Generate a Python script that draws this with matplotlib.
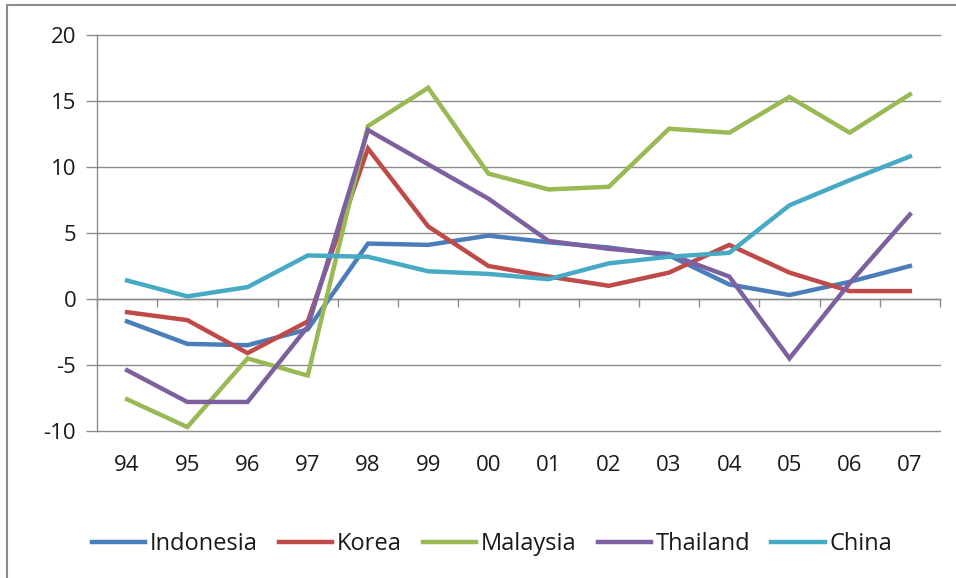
import matplotlib
matplotlib.use("Agg")
import matplotlib.pyplot as plt
from matplotlib.patches import Rectangle
import numpy as np

years = ["94", "95", "96", "97", "98", "99", "00", "01", "02", "03", "04", "05", "06", "07"]
indonesia = [-1.7, -3.4, -3.5, -2.3, 4.2, 4.1, 4.8, 4.3, 3.9, 3.3, 1.1, 0.3, 1.3, 2.5]
korea = [-1.0, -1.6, -4.1, -1.7, 11.4, 5.5, 2.5, 1.7, 1.0, 2.0, 4.1, 2.0, 0.6, 0.6]
malaysia = [-7.6, -9.7, -4.5, -5.8, 13.1, 16.0, 9.5, 8.3, 8.5, 12.9, 12.6, 15.3, 12.6, 15.5]
thailand = [-5.4, -7.8, -7.8, -2.1, 12.8, 10.2, 7.6, 4.4, 3.8, 3.4, 1.7, -4.5, 1.2, 6.4]
china = [1.4, 0.2, 0.9, 3.3, 3.2, 2.1, 1.9, 1.5, 2.7, 3.2, 3.5, 7.1, 9.0, 10.8]

series = [("Indonesia", indonesia, "#4A7EBB"),
          ("Korea", korea, "#BE4B48"),
          ("Malaysia", malaysia, "#98B954"),
          ("Thailand", thailand, "#7D60A0"),
          ("China", china, "#46AAC5")]
yticks = [-10, -5, 0, 5, 10, 15, 20]

plt.rcParams['font.family'] = ['Open Sans', 'DejaVu Sans']
W, H = 956, 578
fig = plt.figure(figsize=(W / 100, H / 100), dpi=100)
ax = fig.add_axes([97 / W, 1 - 431 / H, 843 / W, 396 / H])

x = np.arange(len(years))
for v in yticks:
    ax.axhline(v, color="#8C8C8C", lw=1.0, zorder=0, clip_on=False)
for name, vals, col in series:
    ax.plot(x, vals, color=col, lw=3.2, label=name, solid_joinstyle='miter')

ax.set_xlim(-0.5, len(years) - 0.5)
ax.set_ylim(-10, 20)
ax.set_yticks(yticks)
ax.set_yticklabels([str(v) for v in yticks], fontsize=16, color="#1a1a1a")
ax.tick_params(axis='y', length=8, color="#8C8C8C", width=1, pad=7)

ax.set_xticks(x)
ax.set_xticklabels(years, fontsize=16, color="#1a1a1a")
ax.tick_params(axis='x', length=0, pad=17)

for s in ["top", "right", "bottom"]:
    ax.spines[s].set_visible(False)
ax.spines["left"].set_color("#8C8C8C")
ax.spines["left"].set_linewidth(1.0)

# category axis at zero with tick marks between categories
sec = ax.secondary_xaxis(10 / 30)
sec.set_xticks(np.arange(len(years) + 1) - 0.5)
sec.set_xticklabels([])
sec.tick_params(axis='x', direction='out', length=6, color="#8C8C8C", width=1)
sec.spines["bottom"].set_color("#8C8C8C")
sec.spines["bottom"].set_linewidth(1.0)

leg = fig.legend(loc="center", bbox_to_anchor=(492 / W, 1 - 544 / H), ncol=5,
                 frameon=False, fontsize=17, handlelength=2.25, handletextpad=0.2,
                 columnspacing=0.9)
for t in leg.get_texts():
    t.set_color("#1a1a1a")

fig.patches.append(Rectangle((7 / W, -0.1), 1.2, 1.1 - 5 / H, transform=fig.transFigure,
                             fill=False, edgecolor="#8C8C8C", lw=1.5))

fig.savefig("out.png", dpi=100)
